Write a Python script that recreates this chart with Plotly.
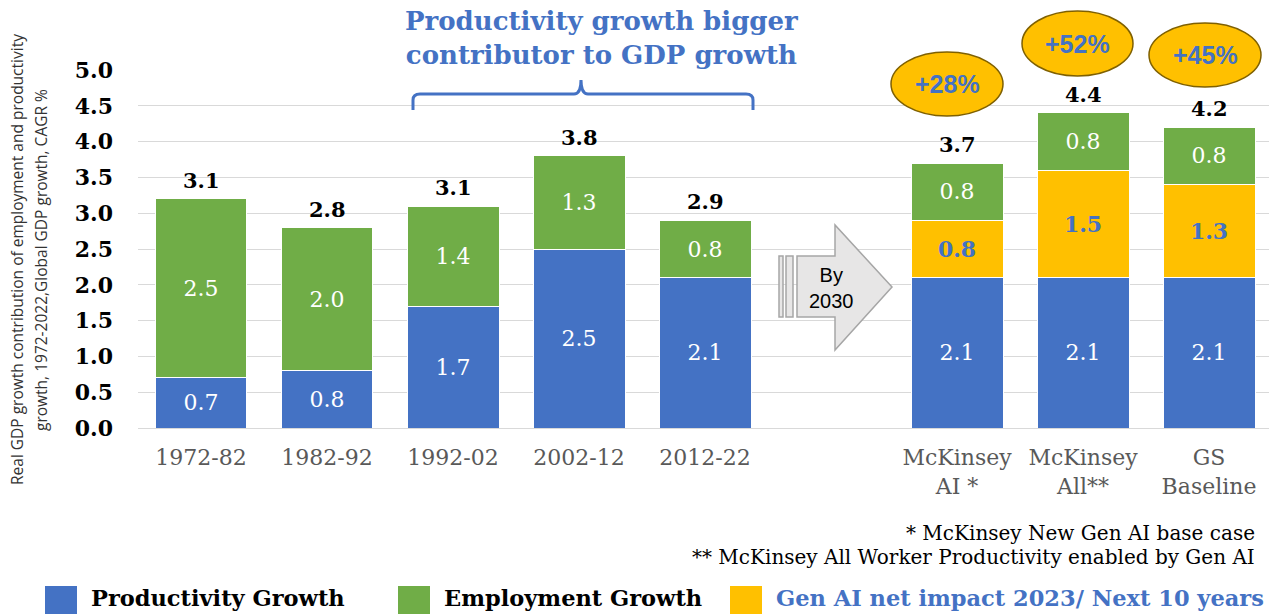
import plotly.graph_objects as go

# ---------------- data ----------------
categories = ["1972-82", "1982-92", "1992-02", "2002-12", "2012-22", "",
              "McKinsey<br>AI *", "McKinsey<br>All**", "GS<br>Baseline"]
productivity = [0.7, 0.8, 1.7, 2.5, 2.1, None, 2.1, 2.1, 2.1]
genai = [None, None, None, None, None, None, 0.8, 1.5, 1.3]
employment = [2.5, 2.0, 1.4, 1.3, 0.8, None, 0.8, 0.8, 0.8]
totals = [3.1, 2.8, 3.1, 3.8, 2.9, None, 3.7, 4.4, 4.2]
uplift = [None, None, None, None, None, None, "+28%", "+52%", "+45%"]
y_ticks = [0.0, 0.5, 1.0, 1.5, 2.0, 2.5, 3.0, 3.5, 4.0, 4.5, 5.0]

BLUE = "#4472C4"
GREEN = "#70AD47"
GOLD = "#FFC000"
SERIF = "DejaVu Serif"
SANS = "Liberation Sans"

W, H = 1269, 614
L, T, BOT = 138, 70, 428

def px(x):
    return (x - L) / (W - L)

def py(y):
    return (BOT - y) / (BOT - T)

idx = list(range(len(categories)))
bar_idx = [i for i in idx if productivity[i] is not None]

def sel(arr):
    return [arr[i] for i in bar_idx]

def fmt(arr):
    return ["" if v is None else f"{v:.1f}" for v in sel(arr)]

fig = go.Figure()
common = dict(width=0.73, marker_line=dict(color="white", width=1),
              textposition="inside", insidetextanchor="middle",
              textangle=0, hoverinfo="skip", showlegend=False)
fig.add_trace(go.Bar(x=bar_idx, y=sel(productivity), marker_color=BLUE,
                     text=fmt(productivity),
                     textfont=dict(family=SERIF, size=22, color="white"), **common))
fig.add_trace(go.Bar(x=bar_idx, y=[0 if v is None else v for v in sel(genai)],
                     marker_color=GOLD, text=fmt(genai),
                     textfont=dict(family=SERIF, size=22, color=BLUE, weight="bold"), **common))
fig.add_trace(go.Bar(x=bar_idx, y=sel(employment), marker_color=GREEN,
                     text=fmt(employment),
                     textfont=dict(family=SERIF, size=22, color="white"), **common))

annotations = []
shapes = []

def note(x, y, text, font, xanchor="center", yanchor="middle", **kw):
    annotations.append(dict(x=px(x), y=py(y), xref="paper", yref="paper", text=text,
                            showarrow=False, xanchor=xanchor, yanchor=yanchor, font=font, **kw))

# totals above bars
for i in bar_idx:
    top = productivity[i] + employment[i] + (genai[i] or 0)
    annotations.append(dict(x=i, y=top, xref="x", yref="y", text=f"<b>{totals[i]:.1f}</b>",
                            showarrow=False, xanchor="center", yanchor="bottom", yshift=4,
                            font=dict(family=SERIF, size=21, color="black")))

# ellipses with uplift
ell_pos = {6: (891, 1003, 52, 116), 7: (1022, 1133, 11, 76), 8: (1149, 1261, 23, 87)}
for i, (x0, x1, y0, y1) in ell_pos.items():
    shapes.append(dict(type="circle", xref="paper", yref="paper",
                       x0=px(x0), x1=px(x1), y0=py(y1), y1=py(y0),
                       fillcolor=GOLD, line=dict(color="#7F6000", width=1.5)))
    note((x0 + x1) / 2, (y0 + y1) / 2, f"<b>{uplift[i]}</b>",
         dict(family=SANS, size=25, color=BLUE))

# title
note(601, 38, "<b>Productivity growth bigger<br>contributor to GDP growth</b>",
     dict(family=SERIF, size=26, color=BLUE))

# brace
def P(x, y):
    return f"{px(x):.5f},{py(y):.5f}"
brace = ("M " + P(413, 110) + " L " + P(413, 100) + " Q " + P(413, 94) + " " + P(420, 94) +
         " L " + P(574, 94) + " Q " + P(581, 94) + " " + P(581, 80) +
         " Q " + P(581, 94) + " " + P(588, 94) + " L " + P(746, 94) +
         " Q " + P(753, 94) + " " + P(753, 100) + " L " + P(753, 110))
shapes.append(dict(type="path", xref="paper", yref="paper", path=brace,
                   line=dict(color=BLUE, width=3)))

# arrow
ARROW_FILL = "#E7E6E6"
ARROW_LINE = "#A6A6A6"
for x0, x1 in [(779, 783), (786, 793)]:
    shapes.append(dict(type="rect", xref="paper", yref="paper",
                       x0=px(x0), x1=px(x1), y0=py(317), y1=py(256),
                       fillcolor=ARROW_FILL, line=dict(color=ARROW_LINE, width=1.5)))
arrow = ("M " + P(797, 256) + " L " + P(835, 256) + " L " + P(835, 225) + " L " + P(892, 287) +
         " L " + P(835, 350) + " L " + P(835, 317) + " L " + P(797, 317) + " Z")
shapes.append(dict(type="path", xref="paper", yref="paper", path=arrow,
                   fillcolor=ARROW_FILL, line=dict(color=ARROW_LINE, width=1.5)))
note(831, 288, "By<br>2030", dict(family=SANS, size=20, color="black"))

# y axis title (two rotated lines)
ytitle_font = dict(family="Open Sans", size=15.5, color="#333333")
note(17, 260, "Real GDP growth contribution of employment and productivity", ytitle_font,
     textangle=-90)
note(41, 260, "growth, 1972-2022,Global GDP growth, CAGR %", ytitle_font, textangle=-90)

# footnotes
foot_font = dict(family=SERIF, size=20, color="black")
note(1257, 533, "* McKinsey New Gen AI base case", foot_font, xanchor="right")
note(1257, 557, "** McKinsey All Worker Productivity enabled by Gen AI", foot_font, xanchor="right")

# legend (manual)
legend_items = [("Productivity Growth", BLUE, "black", 45),
                ("Employment Growth", GREEN, "black", 398),
                ("Gen AI net impact 2023/ Next 10 years", GOLD, BLUE, 730)]
for name, col, tcol, x in legend_items:
    shapes.append(dict(type="rect", xref="paper", yref="paper",
                       x0=px(x), x1=px(x + 32), y0=py(620), y1=py(586),
                       fillcolor=col, line=dict(width=0)))
    note(x + 44, 598, f"<b>{name}</b>", dict(family=SERIF, size=22.5, color=tcol), xanchor="left")

fig.update_layout(
    width=W, height=H, barmode="stack",
    margin=dict(l=L, r=0, t=T, b=H - BOT),
    plot_bgcolor="white", paper_bgcolor="white",
    annotations=annotations, shapes=shapes,
    xaxis=dict(range=[-0.5, 8.476], tickmode="array", tickvals=idx, ticktext=categories,
               showgrid=False, zeroline=False, showline=False, ticks="",
               tickfont=dict(family=SERIF, size=22, color="#595959"),
               ticklabelstandoff=14, fixedrange=True),
    yaxis=dict(range=[0, 5], tickmode="array", tickvals=y_ticks,
               ticktext=[f"<b>{v:.1f}</b>" for v in y_ticks],
               showgrid=True, gridcolor="#D9D9D9", gridwidth=1,
               zeroline=True, zerolinecolor="#D9D9D9", zerolinewidth=1,
               tickfont=dict(family=SERIF, size=22, color="black"),
               ticklabelstandoff=24, fixedrange=True),
)

fig.write_html("out.html")
